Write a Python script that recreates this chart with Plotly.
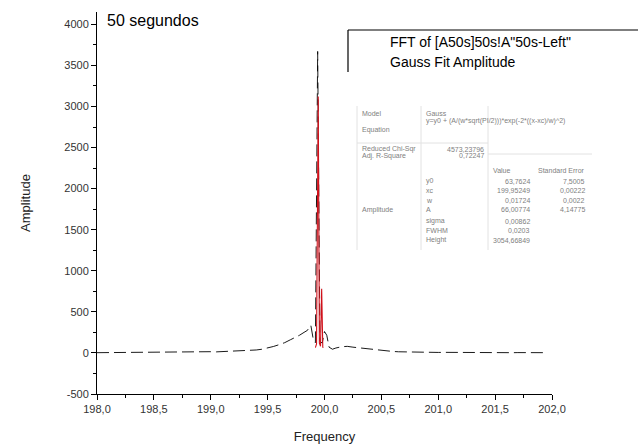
import plotly.graph_objects as go

# ---------------- data ----------------
fft_freq = [198.00, 198.05, 198.10, 198.15, 198.20, 198.25, 198.30, 198.35, 198.40, 198.45,
            198.50, 198.55, 198.60, 198.65, 198.70, 198.75, 198.80, 198.85, 198.90, 198.95,
            199.00, 199.05, 199.10, 199.15, 199.20, 199.25, 199.30, 199.35, 199.40, 199.45,
            199.50, 199.55, 199.60, 199.65, 199.70, 199.74, 199.78, 199.82, 199.85, 199.86,
            199.88, 199.90, 199.92, 199.94, 199.96, 199.98, 200.00, 200.02, 200.04, 200.07,
            200.10, 200.15, 200.20, 200.25, 200.30, 200.35, 200.40, 200.45, 200.50, 200.55,
            200.60, 200.65, 200.70, 200.75, 200.80, 200.85, 200.90, 200.95, 201.00, 201.05,
            201.10, 201.15, 201.20, 201.25, 201.30, 201.35, 201.40, 201.45, 201.50, 201.55,
            201.60, 201.65, 201.70, 201.75, 201.80, 201.85, 201.90, 201.95]
fft_amp = [3, 4, 2, 5, 3, 4, 6, 4, 5, 7,
           6, 8, 7, 9, 10, 9, 11, 12, 12, 14,
           15, 13, 16, 17, 16, 19, 22, 28, 36, 45,
           60, 78, 100, 125, 160, 185, 215, 250, 275, 300,
           335, 175, 125, 3670, 140, 120, 260, 215, 70, 45,
           60, 75, 80, 70, 62, 55, 45, 36, 28, 22,
           18, 14, 12, 10, 9, 8, 7, 8, 6, 7,
           6, 5, 6, 5, 4, 5, 4, 5, 4, 3,
           4, 3, 4, 3, 3, 4, 3, 3]

fit_freq = [199.92, 199.93, 199.945, 199.955, 199.965, 199.975, 199.985, 199.99]
fit_amp = [65, 110, 3120, 120, 80, 780, 70, 64]

x_tickvals = [198.0, 198.5, 199.0, 199.5, 200.0, 200.5, 201.0, 201.5, 202.0]
x_ticktext = ["198,0", "198,5", "199,0", "199,5", "200,0", "200,5", "201,0", "201,5", "202,0"]
y_tickvals = [-500, 0, 500, 1000, 1500, 2000, 2500, 3000, 3500, 4000]
y_ticktext = ["-500", "0", "500", "1000", "1500", "2000", "2500", "3000", "3500", "4000"]

title_text = "50 segundos"
legend_labels = ['FFT of [A50s]50s!A"50s-Left"', "Gauss Fit Amplitude"]

table_left = [("Model", 113), ("Equation", 130), ("Reduced Chi-Sqr", 149),
              ("Adj. R-Square", 156), ("Amplitude", 210)]
table_mid = [("Gauss", 113), ("y=y0 + (A/(w*sqrt(PI/2)))*exp(-2*((x-xc)/w)^2)", 121)]
table_stats = [("4573,23796", 149), ("0,72247", 156)]
param_names = ["y0", "xc", "w", "A", "sigma", "FWHM", "Height"]
param_values = ["63,7624", "199,95249", "0,01724", "66,00774", "0,00862", "0,0203", "3054,66849"]
param_errors = ["7,5005", "0,00222", "0,0022", "4,14775", "", "", ""]

# ---------------- layout geometry ----------------
W, H = 638, 447
ML, MR, MT, MB = 97, 86, 12, 53
PW, PH = W - ML - MR, H - MT - MB


def px(x):
    return (x - ML) / PW


def py(y):
    return (H - MB - y) / PH


FONT = "Liberation Sans, Arial, sans-serif"

fig = go.Figure()
fig.add_trace(go.Scatter(x=fft_freq, y=fft_amp, mode="lines",
                         line=dict(color="black", width=0.9, dash="12px,5px"),
                         name=legend_labels[0], showlegend=False))
fig.add_trace(go.Scatter(x=fit_freq, y=fit_amp, mode="lines",
                         line=dict(color="#d0101a", width=1.1),
                         name=legend_labels[1], showlegend=False))

annotations = []
annotations.append(dict(text=title_text, xref="paper", yref="paper", x=px(105), y=py(20),
                        xanchor="left", yanchor="middle", showarrow=False,
                        font=dict(size=16, color="black", family=FONT)))
for lbl, yy in zip(legend_labels, [42, 62]):
    annotations.append(dict(text=lbl, xref="paper", yref="paper", x=px(388), y=py(yy),
                            xanchor="left", yanchor="middle", showarrow=False,
                            font=dict(size=14, color="black", family=FONT)))

tfont = dict(size=7, color="#808080", family=FONT)
for t, yy in table_left:
    annotations.append(dict(text=t, xref="paper", yref="paper", x=px(360), y=py(yy),
                            xanchor="left", yanchor="middle", showarrow=False, font=tfont))
for t, yy in table_mid:
    annotations.append(dict(text=t, xref="paper", yref="paper", x=px(424), y=py(yy),
                            xanchor="left", yanchor="middle", showarrow=False, font=tfont))
for t, yy in table_stats:
    annotations.append(dict(text=t, xref="paper", yref="paper", x=px(486), y=py(yy),
                            xanchor="right", yanchor="middle", showarrow=False, font=tfont))
annotations.append(dict(text="Value", xref="paper", yref="paper", x=px(491), y=py(170),
                        xanchor="left", yanchor="middle", showarrow=False, font=tfont))
annotations.append(dict(text="Standard Error", xref="paper", yref="paper", x=px(587), y=py(170),
                        xanchor="right", yanchor="middle", showarrow=False, font=tfont))
row_y = [181, 190, 200, 210, 221, 230, 240]
for n, v, e, yy in zip(param_names, param_values, param_errors, row_y):
    annotations.append(dict(text=n, xref="paper", yref="paper", x=px(424), y=py(yy),
                            xanchor="left", yanchor="middle", showarrow=False, font=tfont))
    annotations.append(dict(text=v, xref="paper", yref="paper", x=px(532), y=py(yy),
                            xanchor="right", yanchor="middle", showarrow=False, font=tfont))
    if e:
        annotations.append(dict(text=e, xref="paper", yref="paper", x=px(587), y=py(yy),
                                xanchor="right", yanchor="middle", showarrow=False, font=tfont))

shapes = []
def seg(x0, y0, x1, y1, color, width):
    shapes.append(dict(type="line", xref="paper", yref="paper",
                       x0=px(x0), y0=py(y0), x1=px(x1), y1=py(y1),
                       line=dict(color=color, width=width)))

seg(348, 30, 638, 30, "black", 1.2)
seg(348, 30, 348, 72, "black", 1.2)
tl = "#e2e2e2"
seg(357, 106, 357, 250, tl, 1)
seg(421, 106, 421, 250, tl, 1)
seg(488, 106, 488, 250, tl, 1)
seg(357, 143, 488, 143, tl, 1)
seg(488, 154, 592, 154, tl, 1)

fig.update_layout(
    width=W, height=H,
    margin=dict(l=ML, r=MR, t=MT, b=MB, pad=0, autoexpand=False),
    paper_bgcolor="white", plot_bgcolor="white",
    showlegend=False,
    annotations=annotations, shapes=shapes,
    font=dict(family=FONT, color="#333"),
    xaxis=dict(range=[198.0, 202.0], showline=True, linecolor="black", linewidth=1,
               automargin=False,
               ticks="outside", ticklen=5, tickwidth=1, tickcolor="black",
               tickvals=x_tickvals, ticktext=x_ticktext,
               minor=dict(ticks="outside", ticklen=3, tickcolor="black", dtick=0.25, tick0=198.0),
               showgrid=False, zeroline=False, mirror=False,
               tickfont=dict(size=11, color="#333", family=FONT),
               title=dict(text="Frequency", font=dict(size=13, color="#222", family=FONT), standoff=17)),
    yaxis=dict(range=[-500, 4150], showline=True, linecolor="black", linewidth=1,
               automargin=False,
               ticks="outside", ticklen=5, tickwidth=1, tickcolor="black",
               tickvals=y_tickvals, ticktext=y_ticktext,
               minor=dict(ticks="outside", ticklen=3, tickcolor="black", dtick=250, tick0=-500),
               showgrid=False, zeroline=False, mirror=False,
               tickfont=dict(size=11, color="#333", family=FONT),
               title=dict(text="Amplitude", font=dict(size=13, color="#222", family=FONT), standoff=30)),
)

fig.write_html("out.html")
